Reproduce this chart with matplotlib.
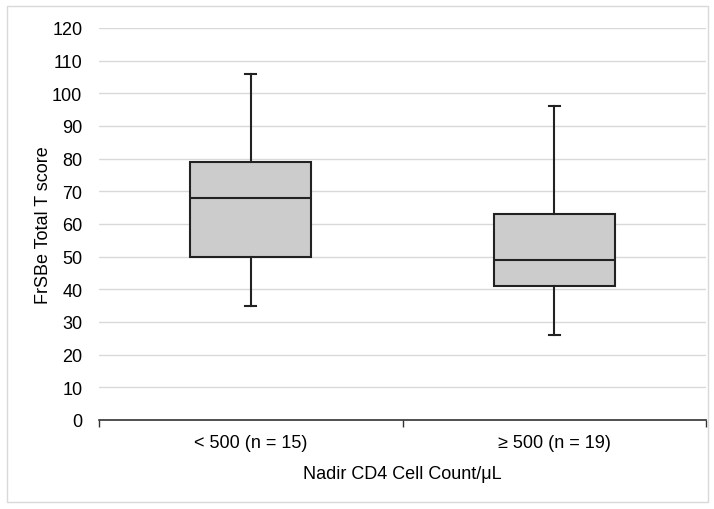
import matplotlib
matplotlib.use("Agg")
import matplotlib.pyplot as plt
from matplotlib.patches import Rectangle

plt.rcParams['font.family'] = ['Liberation Sans', 'DejaVu Sans']

categories = ["< 500 (n = 15)", "≥ 500 (n = 19)"]
whislo = [35, 26]
q1 = [50, 41]
med = [68, 49]
q3 = [79, 63]
whishi = [106, 96]
yticks = list(range(0, 121, 10))

fig = plt.figure(figsize=(7.14, 5.10), dpi=100)
ax = fig.add_axes([99/714, 1 - 421/510, (706-99)/714, (421-29)/510])

stats = []
for i in range(len(categories)):
    stats.append(dict(med=med[i], q1=q1[i], q3=q3[i], whislo=whislo[i],
                      whishi=whishi[i], fliers=[], label=categories[i]))

positions = [0.5 + i for i in range(len(categories))]
ax.bxp(stats, positions=positions, widths=0.4, patch_artist=True,
       showfliers=False,
       boxprops=dict(facecolor='#cccccc', edgecolor='#222222', linewidth=1.5),
       medianprops=dict(color='#222222', linewidth=1.5),
       whiskerprops=dict(color='#222222', linewidth=1.5),
       capprops=dict(color='#222222', linewidth=1.5),
       capwidths=0.035, zorder=3)

ax.set_xlim(0, len(categories))
ax.set_ylim(0, 120)
ax.set_yticks(yticks)
ax.set_yticklabels([str(t) for t in yticks], fontsize=13)
ax.yaxis.grid(True, color='#d9d9d9', linewidth=1)
ax.set_axisbelow(True)
ax.tick_params(axis='y', length=0, pad=12)

ax.set_xticks([0, 1, 2])
ax.set_xticklabels([])
ax.set_xticks(positions, minor=True)
ax.set_xticklabels(categories, minor=True, fontsize=13)
ax.tick_params(axis='x', which='major', direction='out', length=5, color='#333333', width=1)
ax.tick_params(axis='x', which='minor', length=0, pad=10)

for s in ['top', 'right', 'left']:
    ax.spines[s].set_visible(False)
ax.spines['bottom'].set_color('#333333')
ax.spines['bottom'].set_linewidth(1.2)

ax.set_ylabel("FrSBe Total T score", fontsize=13, labelpad=0)
ax.set_xlabel("Nadir CD4 Cell Count/μL", fontsize=13, labelpad=10)

fig.patches.append(Rectangle((7/714, 7/510), (708-7)/714, (503-7)/510,
                             transform=fig.transFigure, fill=False,
                             edgecolor='#d9d9d9', linewidth=1))

fig.savefig("out.png", dpi=100)
